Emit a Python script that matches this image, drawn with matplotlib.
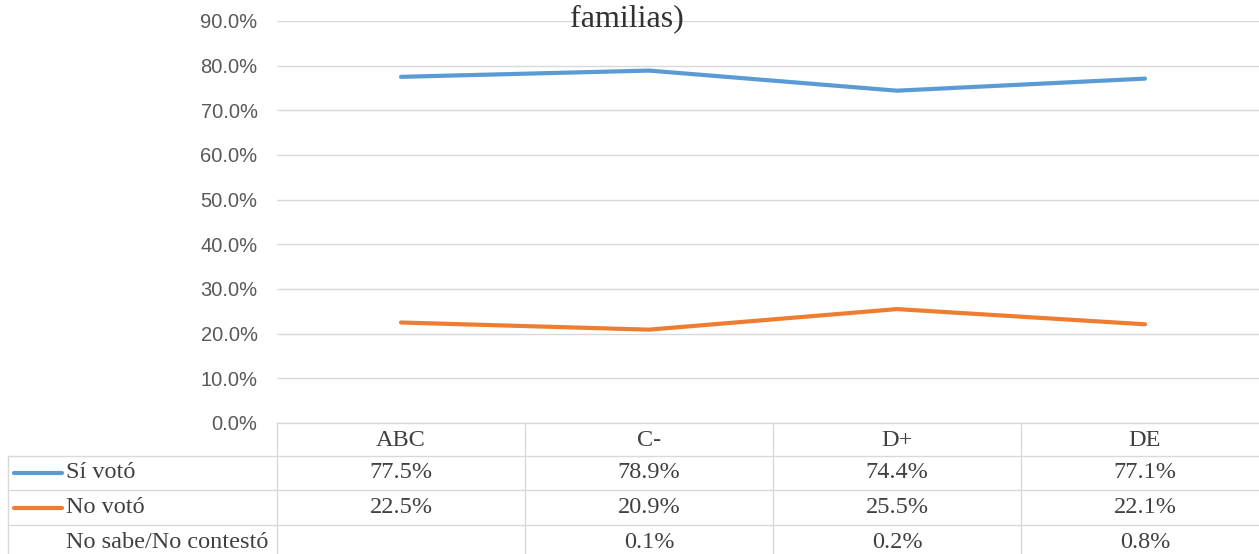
"""
Line chart with Excel-style data table: vote participation by socioeconomic level.
"""

import matplotlib
matplotlib.use("Agg")
import matplotlib.pyplot as plt
from matplotlib.transforms import blended_transform_factory
import numpy as np

# data
categories = ["ABC", "C-", "D+", "DE"]
si_voto = [77.5, 78.9, 74.4, 77.1]
no_voto = [22.5, 20.9, 25.5, 22.1]
no_sabe = [None, 0.1, 0.2, 0.8]
series_names = ["Sí votó", "No votó", "No sabe/No contestó"]
y_ticks = [0, 10, 20, 30, 40, 50, 60, 70, 80, 90]

BLUE = "#5b9bd5"
ORANGE = "#ed7d31"
GRID = "#d9d9d9"
TEXT = "#404040"
SERIF = "Liberation Serif"
SANS = "Liberation Sans"

W, H = 1259, 554
fig = plt.figure(figsize=(W / 100, H / 100), dpi=100)

# plot area in pixel terms (top-left origin)
left, right, top, bottom = 277, 1269, 21, 423
ax = fig.add_axes([left / W, (H - bottom) / H, (right - left) / W, (bottom - top) / H])

x = np.arange(len(categories))
ax.plot(x, si_voto, color=BLUE, lw=3, solid_capstyle="round", zorder=3)
ax.plot(x, no_voto, color=ORANGE, lw=3, solid_capstyle="round", zorder=3)

ax.set_xlim(-0.5, len(categories) - 0.5)
ax.set_ylim(0, 90)
ax.set_yticks(y_ticks)
ax.set_yticklabels([f"{v:.1f}%" for v in y_ticks], fontfamily=SANS,
                   fontsize=14.5, color="#595959")
ax.tick_params(axis="y", length=0, pad=14)
ax.set_xticks([])
ax.grid(axis="y", color=GRID, lw=1)
ax.set_axisbelow(True)
for s in ax.spines.values():
    s.set_visible(False)

# title (upper lines cropped off in the source image)
fig.text(627 / W, (H - 26) / H, "familias)", family=SERIF, fontsize=23,
         color="#333333", ha="center", va="baseline")

# data table below the plot
def fy(py):
    return (H - py) / H

def fx(px):
    return px / W

tr = blended_transform_factory(ax.transData, fig.transFigure)
row_lines = [456, 490, 525]
row_centers = [440, 473, 507.5, 542]
line_kw = dict(color=GRID, lw=1, clip_on=False)

# header row border
fig.add_artist(plt.Line2D([-0.5, len(categories) - 0.5], [fy(bottom)] * 2,
                          transform=tr, **line_kw))
for py in row_lines:
    fig.add_artist(plt.Line2D([fx(8), 1.02], [fy(py)] * 2,
                              transform=fig.transFigure, **line_kw))
for i in range(len(categories)):
    fig.add_artist(plt.Line2D([i - 0.5, i - 0.5], [fy(bottom), 0],
                              transform=tr, **line_kw))
fig.add_artist(plt.Line2D([fx(8), fx(8)], [fy(row_lines[0]), 0],
                          transform=fig.transFigure, **line_kw))

cell_kw = dict(family=SERIF, fontsize=17.5, color=TEXT, va="center")
for i, cat in enumerate(categories):
    fig.text(i, fy(row_centers[0]), cat, transform=tr, ha="center", **cell_kw)

key_colors = [BLUE, ORANGE, None]
for r, (name, vals, kc) in enumerate(zip(series_names, [si_voto, no_voto, no_sabe], key_colors)):
    yc = fy(row_centers[r + 1])
    if kc:
        fig.add_artist(plt.Line2D([fx(14), fx(62)], [yc, yc], color=kc, lw=3,
                                  solid_capstyle="round", transform=fig.transFigure))
    fig.text(fx(66), yc, name, ha="left", **cell_kw)
    for i, v in enumerate(vals):
        if v is None:
            continue
        fig.text(i, yc, f"{v:.1f}%", transform=tr, ha="center", **cell_kw)

fig.savefig("out.png", dpi=100)
